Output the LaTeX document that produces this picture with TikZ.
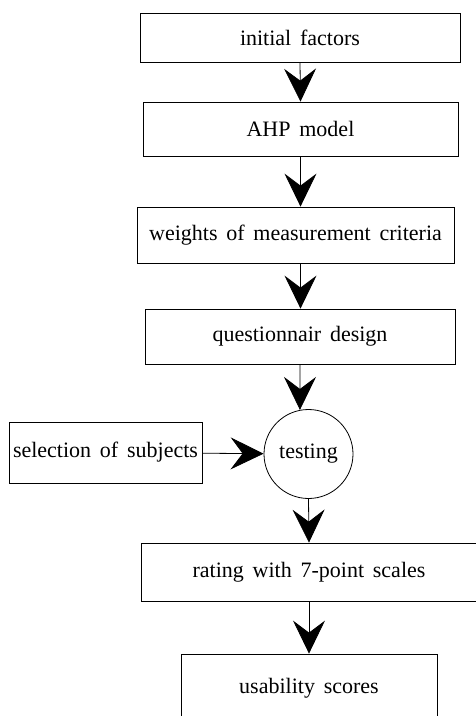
\documentclass[tikz,border=0pt]{standalone}
\usepackage{fontspec}
\setmainfont{Liberation Serif}
\usetikzlibrary{arrows.meta}
\newcommand{\stagefont}{\fontsize{22}{25}\selectfont\spaceskip=0.4em\relax}
\begin{document}
\begin{tikzpicture}[x=1pt, y=-1pt,
        stagebox/.style={draw, line width=0.8pt, inner sep=0pt, font=\stagefont},
        flow/.style={line width=0.8pt, -{Stealth[length=33pt, width=32pt, inset=12pt]}}]
        \useasboundingbox (0,0) rectangle (476,716);
        \node[stagebox, minimum width=320pt, minimum height=49pt] (init) at (300, 37.5) {initial factors};
        \node[stagebox, minimum width=315pt, minimum height=54pt] (ahp) at (300.5, 129) {AHP model};
        \node[stagebox, minimum width=317pt, minimum height=56pt] (weights) at (295.5, 235) {weights of measurement criteria};
        \node[stagebox, minimum width=310pt, minimum height=55pt] (quest) at (300, 336.5) {questionnair design};
        \node[stagebox, circle, minimum size=89pt] (test) at (308.5, 454) {testing};
        \node[stagebox, minimum width=193pt, minimum height=61pt] (subj) at (105.5, 452.5) {selection of subjects};
        \node[stagebox, minimum width=336pt, minimum height=58pt] (rating) at (309, 572) {rating with 7-point scales};
        \node[stagebox, minimum width=256pt, minimum height=68pt] (score) at (309, 688) {usability scores};
        % connectors
        \draw[flow] (init.south) -- (ahp.north);
        \draw[flow] (ahp.south) -- (ahp.south |- weights.north);
        \draw[flow] (ahp.south |- weights.south) -- (ahp.south |- quest.north);
        \draw[flow] (quest.south) -- (test.101);
        \draw[flow] (subj) -- (test);
        \draw[flow] (test.south) -- (rating.north);
        \draw[flow] (rating.south) -- (score.north);
    \end{tikzpicture}
\end{document}
